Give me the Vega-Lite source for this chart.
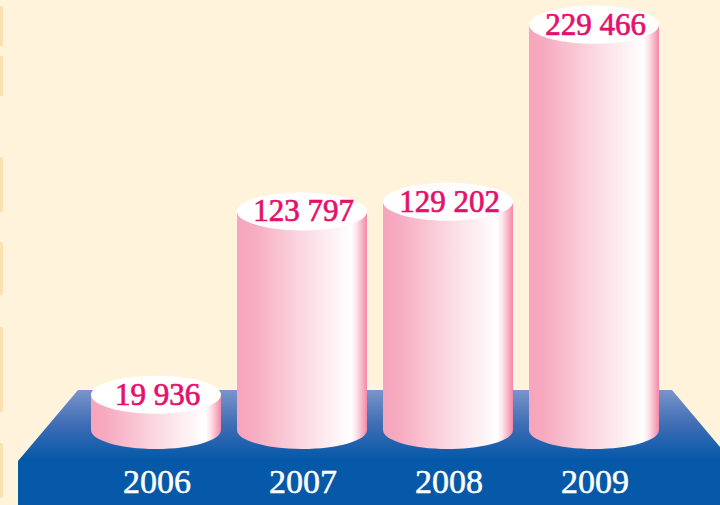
{
"$schema":"https://vega.github.io/schema/vega-lite/v6.json",
"width":720,"height":505,"padding":0,
"autosize":{"type":"fit","contains":"padding"},
"background":"#fff3dc",
"config":{"view":{"stroke":null}},
"datasets":{
"bars":[
{"year":2006,"value":19936,"label":"19 936"},
{"year":2007,"value":123797,"label":"123 797"},
{"year":2008,"value":129202,"label":"129 202"},
{"year":2009,"value":229466,"label":"229 466"}],
"floor":[
{"x":2005.0548,"top":-17556,"bottom":-42473},
{"x":2005.4658,"top":22653,"bottom":-42473},
{"x":2009.5342,"top":22653,"bottom":-42473},
{"x":2009.863,"top":-9627,"bottom":-42473}],
"strips":[
{"a":2004.9315,"b":2004.952,"y0":240118,"y1":217465,"kind":"flat"},
{"a":2004.9315,"b":2004.952,"y0":211802,"y1":189150,"kind":"flat"},
{"a":2004.9315,"b":2004.952,"y0":154604,"y1":123457,"kind":"round"},
{"a":2004.9315,"b":2004.952,"y0":106467,"y1":76452,"kind":"round"},
{"a":2004.9315,"b":2004.952,"y0":58330,"y1":10194,"kind":"round"},
{"a":2004.9315,"b":2004.952,"y0":-7362,"y1":-38509,"kind":"round"}]
},
"encoding":{
"x":{"type":"quantitative","axis":null,"scale":{"domain":[2004.9315,2009.863],"nice":false,"zero":false,"padding":0}},
"y":{"type":"quantitative","axis":null,"scale":{"domain":[-42473,243516],"nice":false,"zero":false,"padding":0}}
},
"layer":[
{"data":{"name":"strips"},"transform":[{"filter":"datum.kind=='flat'"}],
 "mark":{"type":"rect","fill":"#fbe0b4"},
 "encoding":{"x":{"field":"a","type":"quantitative"},"x2":{"field":"b"},"y":{"field":"y0","type":"quantitative"},"y2":{"field":"y1"}}},
{"data":{"name":"strips"},"transform":[{"filter":"datum.kind=='round'"}],
 "mark":{"type":"rect","fill":"#fbe0b4","cornerRadiusTopRight":3,"cornerRadiusBottomRight":3},
 "encoding":{"x":{"field":"a","type":"quantitative"},"x2":{"field":"b"},"y":{"field":"y0","type":"quantitative"},"y2":{"field":"y1"}}},
{"data":{"name":"floor"},
 "mark":{"type":"area","orient":"vertical","fill":{"gradient":"linear","x1":0,"y1":0,"x2":0,"y2":1,"stops":[{"offset":0,"color":"#7a94ca"},{"offset":0.3,"color":"#3f6db5"},{"offset":0.6,"color":"#0659a8"},{"offset":1,"color":"#0659a8"}]}},
 "encoding":{"x":{"field":"x","type":"quantitative"},"y":{"field":"top","type":"quantitative","stack":null},"y2":{"field":"bottom"}}},
{"data":{"name":"bars"},
 "mark":{"type":"bar","orient":"vertical","size":130,"fill":{"gradient":"linear","x1":0,"y1":0,"x2":1,"y2":0,"stops":[{"offset":0,"color":"#f6a5bb"},{"offset":0.12,"color":"#f7abc0"},{"offset":0.5,"color":"#fbd8e1"},{"offset":0.88,"color":"#ffffff"},{"offset":0.92,"color":"#fde3ea"},{"offset":1,"color":"#f388a6"}]}},
 "encoding":{"x":{"field":"year","type":"quantitative"},"y":{"field":"value","type":"quantitative","stack":null}}},
{"data":{"name":"bars"},
 "mark":{"type":"point","filled":true,"opacity":1,"size":16900,"shape":"M-1,0C-1,-.1614,-.5523,-.2923,0,-.2923C.5523,-.2923,1,-.1614,1,0C1,.1614,.5523,.2923,0,.2923C-.5523,.2923,-1,.1614,-1,0Z","fill":{"gradient":"linear","x1":0,"y1":0,"x2":1,"y2":0,"stops":[{"offset":0,"color":"#f6a5bb"},{"offset":0.12,"color":"#f7abc0"},{"offset":0.5,"color":"#fbd8e1"},{"offset":0.88,"color":"#ffffff"},{"offset":0.92,"color":"#fde3ea"},{"offset":1,"color":"#f388a6"}]}},
 "encoding":{"x":{"field":"year","type":"quantitative"},"y":{"datum":0}}},
{"data":{"name":"bars"},
 "mark":{"type":"point","filled":true,"opacity":1,"size":16900,"fill":"#ffffff","shape":"M-1,0C-1,-.1614,-.5523,-.2923,0,-.2923C.5523,-.2923,1,-.1614,1,0C1,.1614,.5523,.2923,0,.2923C-.5523,.2923,-1,.1614,-1,0Z"},
 "encoding":{"x":{"field":"year","type":"quantitative"},"y":{"field":"value","type":"quantitative"}}},
{"data":{"name":"bars"},
 "mark":{"type":"text","font":"Liberation Serif","fontSize":31,"fill":"#e5106c","stroke":"#e5106c","strokeWidth":0.7,"dx":1.5,"dy":1,"align":"center","baseline":"middle"},
 "encoding":{"x":{"field":"year","type":"quantitative"},"y":{"field":"value","type":"quantitative"},"text":{"field":"label"}}},
{"data":{"name":"bars"},
 "mark":{"type":"text","font":"Liberation Serif","fontSize":34,"fill":"#ffffff","stroke":"#ffffff","strokeWidth":0.5,"align":"center","baseline":"middle","dx":1},
 "encoding":{"x":{"field":"year","type":"quantitative"},"y":{"datum":-30015},"text":{"field":"year","type":"quantitative","format":"d"}}}
]
}
